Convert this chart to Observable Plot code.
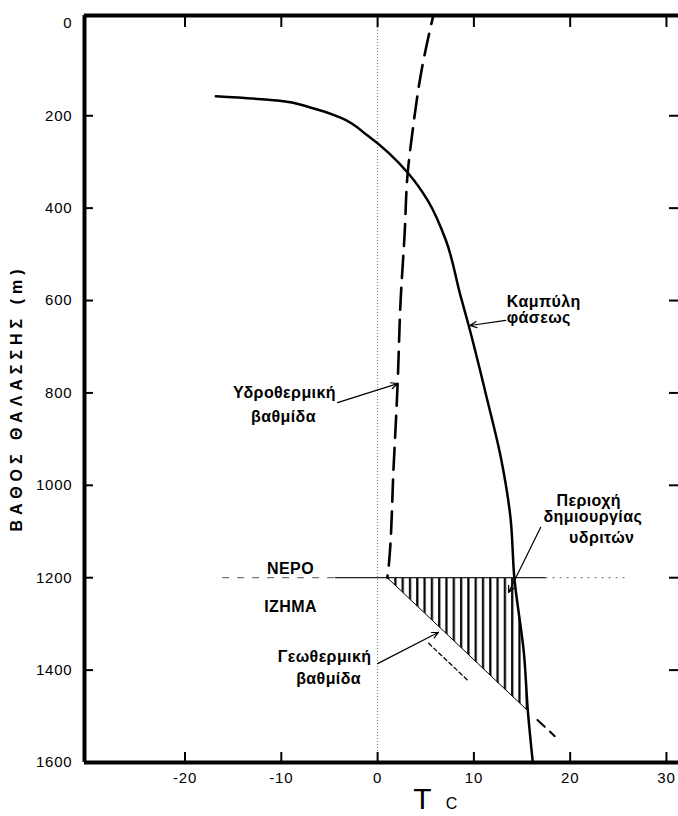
<!DOCTYPE html>
<html>
<head>
<meta charset="utf-8">
<script src="https://cdn.jsdelivr.net/npm/d3@7"></script>
<script src="https://cdn.jsdelivr.net/npm/@observablehq/plot@0.6"></script>
<style>
  html, body { margin: 0; padding: 0; background: #fff; }
  #chart { width: 678px; height: 816px; }
</style>
</head>
<body>
<div id="chart"></div>
<script>
// ---- axes ----
const xDomain = [-30.44, 31.25];
const yDomain = [-17, 1600];
const xTicks = [-20, -10, 0, 10, 20, 30];
const yTicks = [0, 200, 400, 600, 800, 1000, 1200, 1400, 1600];
const yInnerTicks = [200, 400, 600, 800, 1000, 1200, 1400];
const yTitle = "ΒΑΘΟΣ ΘΑΛΑΣΣΗΣ (m)";
const xTitle = "T";
const xUnit = "C";

// ---- phase curve (Καμπύλη φάσεως) ----
const phaseT = [-16.8, -10.4, -7.0, -3.85, -1.04, 3.2, 5.2, 7.1, 8.6, 9.46, 11.4, 12.8, 13.8, 14.2, 15.2, 15.6, 16.1];
const phaseD = [158, 167, 182, 204, 243, 325, 383, 470, 589, 654, 816, 940, 1070, 1200, 1364, 1487, 1596];

// ---- hydrothermal gradient (dashed) ----
const hydroT = [6.1, 4.47, 3.64, 3.12, 2.81, 2.39, 2.08, 1.66, 1.14, 1.0];
const hydroD = [-45, 113, 232, 325, 455, 600, 780, 961, 1178, 1200];

// ---- geothermal gradient ----
const geoT = [1.0, 15.6];
const geoD = [1200, 1488];
const geoExtT = [16.6, 18.4];
const geoExtD = [1508, 1543];
const altT = [5.3, 9.36];
const altD = [1342, 1422];

// ---- hydrate zone (hatched) ----
const hatchD = [1200, 1280, 1364, 1430, 1487];
const hatchLeft = [1.0, 5.1, 9.3, 12.6, 15.55];
const hatchRight = [14.2, 14.8, 15.2, 15.4, 15.6];

// ---- sea floor (ΝΕΡΟ / ΙΖΗΜΑ) ----
const seaFloorDepth = 1200;
const floorDashed = [-16.1, -4.4];
const floorSolid = [-4.4, 17.5];
const floorDotted = [17.5, 26];

// ---- annotation labels ----
const labelText  = ["Καμπύλη", "φάσεως", "Υδροθερμική", "βαθμίδα", "Περιοχή", "δημιουργίας", "υδριτών", "Γεωθερμική", "βαθμίδα"];
const labelT     = [17.26, 16.74, -9.67, -9.77, 21.93, 22.35, 23.28, -5.51, -5.09];
const labelD     = [613, 648, 812, 862, 1044, 1080, 1124, 1383, 1429];
const layerText  = ["ΝΕΡΟ", "ΙΖΗΜΑ"];
const layerT     = [-9.04, -9.04];
const layerD     = [1191, 1275];

// ---- annotation arrows ----
const arrowFromT = [13.31, -4.16, 16.94, 0.0];
const arrowFromD = [643, 821, 1091, 1386];
const arrowToT   = [9.6, 2.08, 13.6, 6.34];
const arrowToD   = [654, 780, 1232, 1318];

const labels = labelText.map((t, i) => ({t, x: labelT[i], y: labelD[i]}));
const layers = layerText.map((t, i) => ({t, x: layerT[i], y: layerD[i]}));
const arrows = arrowFromT.map((_, i) => ({x1: arrowFromT[i], y1: arrowFromD[i], x2: arrowToT[i], y2: arrowToD[i]}));
const phase = phaseT.map((t, i) => ({t, d: phaseD[i]}));
const hydro = hydroT.map((t, i) => ({t, d: hydroD[i]}));
const geo = geoT.map((t, i) => ({t, d: geoD[i]}));
const geoExt = geoExtT.map((t, i) => ({t, d: geoExtD[i]}));
const alt = altT.map((t, i) => ({t, d: altD[i]}));
const hatch = hatchD.map((d, i) => ({d, x1: hatchLeft[i], x2: hatchRight[i]}));

const W = 678, H = 816;
const mL = 84, mR = 0, mT = 15, mB = 54;
const plotW = W - mL - mR, plotH = H - mT - mB;

const svg = Plot.plot({
  width: W, height: H,
  marginLeft: mL, marginRight: mR, marginTop: mT, marginBottom: mB,
  style: {fontFamily: "'Liberation Sans', Arial, sans-serif", fontSize: "15px", background: "#fff", color: "#000", overflow: "visible"},
  x: {domain: xDomain, label: null},
  y: {domain: yDomain, reverse: true, label: null},
  marks: [
    // hatched hydrate zone
    Plot.areaX(hatch, {y: "d", x1: "x1", x2: "x2", fill: "url(#hatch)"}),
    // T = 0 dotted guide
    Plot.ruleX([0], {stroke: "#777", strokeWidth: 1, strokeDasharray: "1,2"}),
    // sea floor line
    Plot.ruleY([seaFloorDepth], {x1: floorDashed[0], x2: floorDashed[1], stroke: "#555", strokeWidth: 1, strokeDasharray: "7,8"}),
    Plot.ruleY([seaFloorDepth], {x1: floorSolid[0], x2: floorSolid[1], stroke: "#222", strokeWidth: 1.3}),
    Plot.ruleY([seaFloorDepth], {x1: floorDotted[0], x2: floorDotted[1], stroke: "#666", strokeWidth: 1, strokeDasharray: "2,5"}),
    // geothermal gradient
    Plot.line(geo, {x: "t", y: "d", stroke: "#000", strokeWidth: 1}),
    Plot.line(geoExt, {x: "t", y: "d", stroke: "#000", strokeWidth: 2, strokeDasharray: "10,7"}),
    Plot.line(alt, {x: "t", y: "d", stroke: "#000", strokeWidth: 1.3, strokeDasharray: "4,3"}),
    // hydrothermal gradient (dashed)
    Plot.line(hydro, {x: "t", y: "d", stroke: "#000", strokeWidth: 2.6, strokeDasharray: "22,10", curve: "monotone-y", clip: true}),
    // phase curve
    Plot.line(phase, {x: "t", y: "d", stroke: "#000", strokeWidth: 2.5, curve: "monotone-y"}),
    // frame lines
    Plot.ruleX([xDomain[0]], {stroke: "#000", strokeWidth: 4}),
    Plot.ruleY([yDomain[0], yDomain[1]], {stroke: "#000", strokeWidth: 4}),
    // inward tick marks
    Plot.ruleX(xTicks, {x: d => d, stroke: "#000", strokeWidth: 2, insetBottom: plotH - 12}),
    Plot.ruleX(xTicks, {x: d => d, stroke: "#000", strokeWidth: 2, insetTop: plotH - 10}),
    Plot.ruleY(yInnerTicks, {y: d => d, stroke: "#000", strokeWidth: 2, insetRight: plotW - 9}),
    Plot.ruleY(yInnerTicks, {y: d => d, stroke: "#000", strokeWidth: 2, insetLeft: plotW - 9}),
    // axis labels
    Plot.axisX({anchor: "bottom", ticks: xTicks, tickSize: 0, tickPadding: 10, tickFormat: d => String(d), label: null}),
    Plot.axisY({anchor: "left", ticks: yTicks, tickSize: 0, tickPadding: 12, tickFormat: d => String(d), label: null}),
    // axis titles
    Plot.text([yTitle], {frameAnchor: "left", textAnchor: "middle", rotate: -90, dx: -68, dy: 9, fontSize: 16, fontWeight: "bold", text: d => d}),
    Plot.text([xTitle], {frameAnchor: "bottom", dx: 41, dy: 46, lineAnchor: "bottom", fontSize: 30, text: d => d}),
    Plot.text([xUnit], {frameAnchor: "bottom", dx: 70, dy: 46, lineAnchor: "bottom", fontSize: 16, text: d => d}),
    // annotations
    Plot.text(labels, {x: "x", y: "y", text: "t", lineAnchor: "bottom", textAnchor: "middle", fontSize: 16, fontWeight: "bold"}),
    Plot.text(layers, {x: "x", y: "y", text: "t", lineAnchor: "bottom", textAnchor: "middle", fontSize: 16, fontWeight: "bold"}),
    Plot.arrow(arrows, {x1: "x1", y1: "y1", x2: "x2", y2: "y2", stroke: "#000", strokeWidth: 1.2, headLength: 9, headAngle: 50})
  ]
});

// hatch pattern
const defs = d3.select(svg).insert("defs", ":first-child");
const pat = defs.append("pattern")
  .attr("id", "hatch")
  .attr("patternUnits", "userSpaceOnUse")
  .attr("width", 7.3).attr("height", 10);
pat.append("line")
  .attr("x1", 1.2).attr("x2", 1.2).attr("y1", 0).attr("y2", 10)
  .attr("stroke", "#000").attr("stroke-width", 2.2);

// letter spacing tweaks
d3.select(svg).selectAll("text").each(function() {
  const t = this.textContent;
  if (t === yTitle) d3.select(this).attr("letter-spacing", "5px");
  else if (/^-?\d+$/.test(t)) d3.select(this).attr("letter-spacing", "0.8px");
  else if (t !== xTitle && t !== xUnit) d3.select(this).attr("letter-spacing", "0.4px");
});

document.getElementById("chart").appendChild(svg);
</script>
</body>
</html>
